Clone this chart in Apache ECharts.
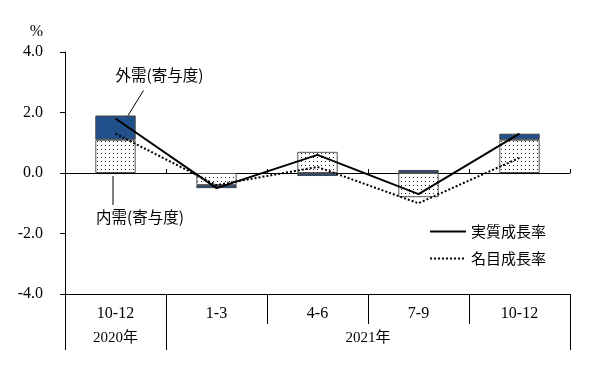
<!DOCTYPE html>
<html><head><meta charset="utf-8">
<script src="https://cdn.jsdelivr.net/npm/echarts@6/dist/echarts.min.js"></script>
<style>html,body{margin:0;padding:0;background:#fff}#c{width:605px;height:365px}</style>
</head><body><div id="c"></div>
<script>
const quarters = ['10-12', '1-3', '4-6', '7-9', '10-12'];
const yearSlots = ['', '2020年', '', '', '', '', '2021年', '', '', '', ''];
const domestic = [1.1, -0.4, 0.7, -0.8, 1.1];
const external = [0.8, -0.1, -0.1, 0.1, 0.2];
const realGrowth = [1.8, -0.5, 0.6, -0.7, 1.3];
const nominalGrowth = [1.3, -0.4, 0.2, -1.0, 0.5];
const yMin = -4, yMax = 4, yStep = 2;
const names = { dom: '内需(寄与度)', ext: '外需(寄与度)', real: '実質成長率', nom: '名目成長率' };

const numFont = "'Liberation Serif', 'Noto Sans CJK JP', serif";
const jpFont = "'Noto Sans CJK JP', sans-serif";

// dot pattern
const pc = document.createElement('canvas');
pc.width = 4; pc.height = 4;
const pctx = pc.getContext('2d');
pctx.fillStyle = '#fff'; pctx.fillRect(0, 0, 4, 4);
pctx.fillStyle = '#222'; pctx.fillRect(1, 1, 1, 1);

const chart = echarts.init(document.getElementById('c'), null, { renderer: 'canvas' });

chart.setOption({
  animation: false,
  backgroundColor: '#fff',
  grid: { left: 65, right: 35, top: 52, bottom: 71, containLabel: false },
  legend: {
    data: [names.real, names.nom],
    orient: 'vertical', left: 424, top: 219,
    itemWidth: 36, itemHeight: 14, itemGap: 12,
    itemStyle: { opacity: 0 },
    textStyle: { fontFamily: jpFont, fontSize: 15, color: '#000' }
  },
  xAxis: [
    {
      type: 'category', data: quarters, position: 'bottom',
      axisLine: { onZero: true, lineStyle: { color: '#000', width: 1 } },
      axisTick: { show: true, inside: true, length: 4, interval: 0, lineStyle: { color: '#000' } },
      axisLabel: { show: false }, splitLine: { show: false }
    },
    {
      type: 'category', data: quarters, position: 'bottom', offset: 0,
      axisLine: { onZero: false, lineStyle: { color: '#000', width: 1 } },
      axisTick: { show: true, length: 30, interval: 0, lineStyle: { color: '#000' } },
      axisLabel: { margin: 12, interval: 0, fontFamily: numFont, fontSize: 16, color: '#000' },
      splitLine: { show: false }
    },
    {
      type: 'category', data: yearSlots, position: 'bottom', offset: 0, boundaryGap: false,
      axisLine: { onZero: false, show: false },
      axisTick: { show: true, length: 56, interval: (i) => i === 0 || i === 2 || i === 10, lineStyle: { color: '#000' } },
      axisLabel: { margin: 37, interval: (i) => i === 1 || i === 6, fontFamily: numFont, fontSize: 15, color: '#000' },
      splitLine: { show: false }
    }
  ],
  yAxis: {
    type: 'value', min: yMin, max: yMax, interval: yStep,
    name: '%', nameLocation: 'end', nameGap: 12,
    nameTextStyle: { fontFamily: numFont, fontSize: 16, color: '#000', align: 'right', verticalAlign: 'bottom', padding: [0, 22, 0, 0] },
    axisLine: { show: true, onZero: false, lineStyle: { color: '#000', width: 1 } },
    axisTick: { show: true, length: 5, lineStyle: { color: '#000' } },
    axisLabel: { margin: 22, formatter: (v) => v.toFixed(1), fontFamily: numFont, fontSize: 16, color: '#000' },
    splitLine: { show: false }
  },
  series: [
    {
      name: names.dom, type: 'bar', stack: 'c', xAxisIndex: 0, data: domestic, barWidth: '40%',
      itemStyle: { color: { image: pc, repeat: 'repeat' }, borderColor: '#555', borderWidth: 1 }, z: 2
    },
    {
      name: names.ext, type: 'bar', stack: 'c', xAxisIndex: 0, data: external, barWidth: '40%',
      itemStyle: { color: '#21508A', borderColor: '#444', borderWidth: 1 }, z: 2
    },
    {
      name: names.real, type: 'line', xAxisIndex: 0, data: realGrowth, symbol: 'none',
      lineStyle: { color: '#000', width: 2, type: 'solid' }, itemStyle: { color: '#000' }, z: 5
    },
    {
      name: names.nom, type: 'line', xAxisIndex: 0, data: nominalGrowth, symbol: 'none',
      lineStyle: { color: '#000', width: 2, type: [2, 2] }, itemStyle: { color: '#000' }, z: 5
    }
  ]
});

// annotations anchored to the bars of the first category
const topExt = chart.convertToPixel({ xAxisIndex: 0, yAxisIndex: 0 }, [0, domestic[0] + external[0]]);
const zeroPt = chart.convertToPixel({ xAxisIndex: 0, yAxisIndex: 0 }, [0, 0]);
const annFont = "15.5px 'Noto Sans CJK JP'";
chart.setOption({
  graphic: [
    { type: 'line', shape: { x1: topExt[0] + 12.5, y1: topExt[1], x2: topExt[0] + 28, y2: topExt[1] - 25 }, style: { stroke: '#000', lineWidth: 1 }, z: 10 },
    { type: 'text', x: topExt[0] + 44, y: topExt[1] - 40, style: { text: names.ext, font: annFont, fill: '#000', align: 'center', verticalAlign: 'middle' }, z: 10 },
    { type: 'line', shape: { x1: zeroPt[0] - 2.5, y1: zeroPt[1] + 3, x2: zeroPt[0] - 2.5, y2: zeroPt[1] + 32 }, style: { stroke: '#000', lineWidth: 1 }, z: 10 },
    { type: 'text', x: zeroPt[0] + 24.5, y: zeroPt[1] + 44, style: { text: names.dom, font: annFont, fill: '#000', align: 'center', verticalAlign: 'middle' }, z: 10 }
  ]
});
</script></body></html>
